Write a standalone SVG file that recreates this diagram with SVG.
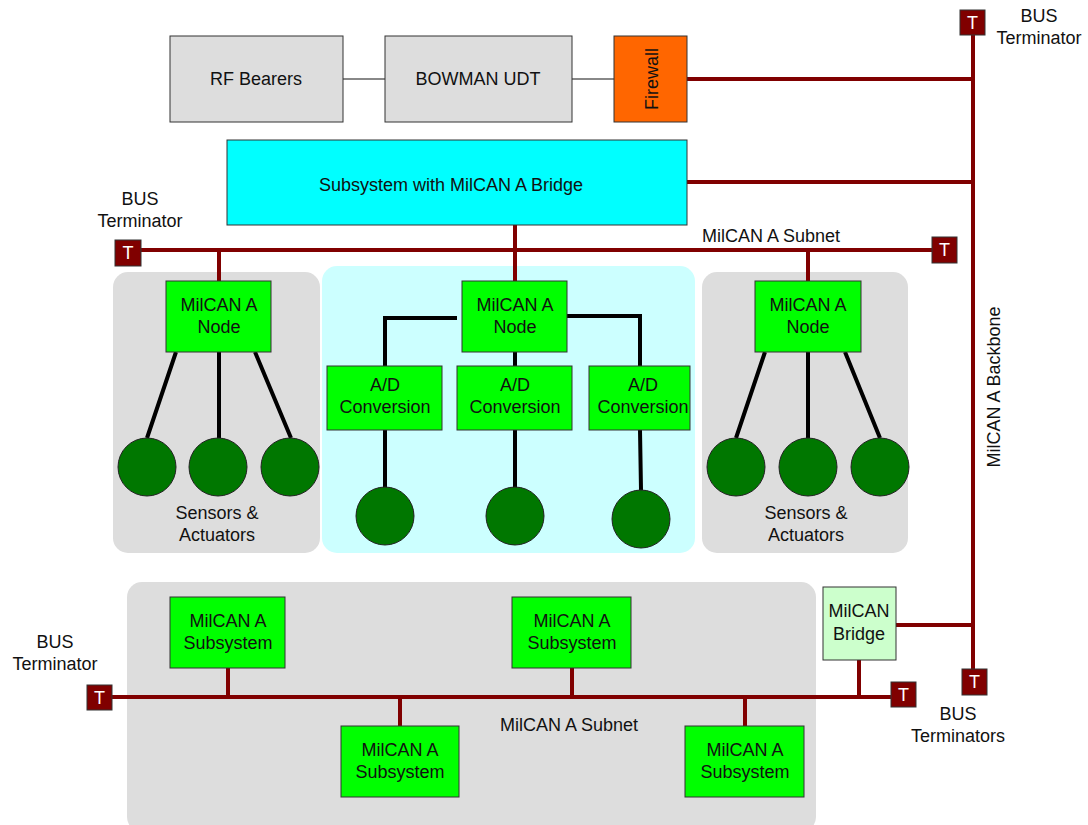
<svg xmlns="http://www.w3.org/2000/svg" width="1088" height="825" viewBox="0 0 1088 825">
<style>
text{font-family:"Liberation Sans",Arial,sans-serif;font-size:18px;fill:#111;text-anchor:middle}
.panel{fill:#dddddd}
.cpanel{fill:#ccffff}
.grey{fill:#dddddd;stroke:#333;stroke-width:1}
.green{fill:#00ff00;stroke:#333;stroke-width:1}
.circ{fill:#007700;stroke:#222;stroke-width:1}
.bus{stroke:#800000;stroke-width:4;fill:none}
.blk{stroke:#000;stroke-width:4;fill:none}
.gl{stroke:#888;stroke-width:2;fill:none}
.term rect{fill:#800000;stroke:#333;stroke-width:1}
.term text{fill:#fff;font-size:18px}
</style>
<rect x="0" y="0" width="1088" height="825" fill="#fff"/>
<g id="panels">
<rect class="panel" x="113" y="272" width="207" height="281" rx="15"/>
<rect class="cpanel" x="322" y="266" width="373" height="287" rx="15"/>
<rect class="panel" x="702" y="272" width="206" height="281" rx="15"/>
<rect class="panel" x="127" y="582" width="689" height="250" rx="15"/>
</g>
<g id="connectors">
<path class="gl" d="M343 79H385M572 79H614"/>
<path class="bus" d="M973 28V670M687 79H973M687 182H973M140 250H932M515 225V281M219 250V281M808 250V281"/>
<path class="bus" d="M112 697H891M228 668V697M572 668V697M400 697V726M745 697V726M896 625H973M859 660V697"/>
<path class="blk" d="M457 318H385V366M567 316H640V366M515 352V366M385 430V488M515 430V488M640 430L641 490"/>
<path class="blk" d="M176 352L147 438M219 352V438M255 352L291 438M765 352L736 438M808 352V438M845 352L880 438"/>
</g>
<g id="rf"><rect class="grey" x="170" y="36" width="173" height="86"/><text x="256" y="85">RF Bearers</text></g>
<g id="bowman"><rect class="grey" x="385" y="36" width="187" height="86"/><text x="478" y="85">BOWMAN UDT</text></g>
<g id="firewall"><rect x="614" y="36" width="73" height="86" fill="#ff6600" stroke="#333"/><text transform="translate(658 79) rotate(-90)">Firewall</text></g>
<g id="subsys"><rect x="227" y="140" width="460" height="85" fill="#00ffff" stroke="#333"/><text x="451" y="191">Subsystem with MilCAN A Bridge</text></g>
<g id="node1"><rect class="green" x="166" y="281" width="105" height="71"/><text x="219" y="311">MilCAN A</text><text x="219" y="333">Node</text></g>
<g id="node2"><rect class="green" x="462" y="281" width="105" height="71"/><text x="515" y="311">MilCAN A</text><text x="515" y="333">Node</text></g>
<g id="node3"><rect class="green" x="755" y="281" width="106" height="71"/><text x="808" y="311">MilCAN A</text><text x="808" y="333">Node</text></g>
<g id="ad1"><rect class="green" x="327" y="366" width="115" height="64"/><text x="385" y="391">A/D</text><text x="385" y="413">Conversion</text></g>
<g id="ad2"><rect class="green" x="457" y="366" width="115" height="64"/><text x="515" y="391">A/D</text><text x="515" y="413">Conversion</text></g>
<g id="ad3"><rect class="green" x="589" y="366" width="101" height="64"/><text x="643" y="391">A/D</text><text x="643" y="413">Conversion</text></g>
<g id="sensors">
<circle class="circ" cx="147" cy="467" r="29"/><circle class="circ" cx="218" cy="467" r="29"/><circle class="circ" cx="290" cy="467" r="29"/>
<circle class="circ" cx="736" cy="467" r="29"/><circle class="circ" cx="808" cy="467" r="29"/><circle class="circ" cx="880" cy="467" r="29"/>
<circle class="circ" cx="385" cy="516" r="29"/><circle class="circ" cx="515" cy="516" r="29"/><circle class="circ" cx="641" cy="519" r="29"/>
<text x="217" y="519">Sensors &amp;</text><text x="217" y="541">Actuators</text>
<text x="806" y="519">Sensors &amp;</text><text x="806" y="541">Actuators</text>
</g>
<g id="sub1"><rect class="green" x="170" y="597" width="115" height="71"/><text x="228" y="627">MilCAN A</text><text x="228" y="649">Subsystem</text></g>
<g id="sub2"><rect class="green" x="512" y="597" width="119" height="71"/><text x="572" y="627">MilCAN A</text><text x="572" y="649">Subsystem</text></g>
<g id="sub3"><rect class="green" x="341" y="726" width="118" height="71"/><text x="400" y="756">MilCAN A</text><text x="400" y="778">Subsystem</text></g>
<g id="sub4"><rect class="green" x="685" y="726" width="119" height="71"/><text x="745" y="756">MilCAN A</text><text x="745" y="778">Subsystem</text></g>
<g id="bridge"><rect x="823" y="587" width="73" height="73" fill="#ccffcc" stroke="#333"/><text x="859" y="617">MilCAN</text><text x="859" y="640">Bridge</text></g>
<g id="terminators">
<g class="term"><rect x="960" y="10" width="25" height="25"/><text x="972.5" y="29">T</text></g>
<g class="term"><rect x="115" y="240" width="26" height="26"/><text x="128" y="259">T</text></g>
<g class="term"><rect x="932" y="237" width="25" height="26"/><text x="944.5" y="256">T</text></g>
<g class="term"><rect x="87" y="685" width="25" height="25"/><text x="99.5" y="704">T</text></g>
<g class="term"><rect x="891" y="682" width="25" height="25"/><text x="903.5" y="701">T</text></g>
<g class="term"><rect x="962" y="669" width="25" height="26"/><text x="974.5" y="688">T</text></g>
</g>
<g id="labels">
<text x="1039" y="22">BUS</text><text x="1039" y="44">Terminator</text>
<text x="140" y="205">BUS</text><text x="140" y="227">Terminator</text>
<text x="55" y="648">BUS</text><text x="55" y="670">Terminator</text>
<text x="958" y="720">BUS</text><text x="958" y="742">Terminators</text>
<text x="771" y="242">MilCAN A Subnet</text>
<text x="569" y="731">MilCAN A Subnet</text>
<text transform="translate(1000 387) rotate(-90)">MilCAN A Backbone</text>
</g>
</svg>
